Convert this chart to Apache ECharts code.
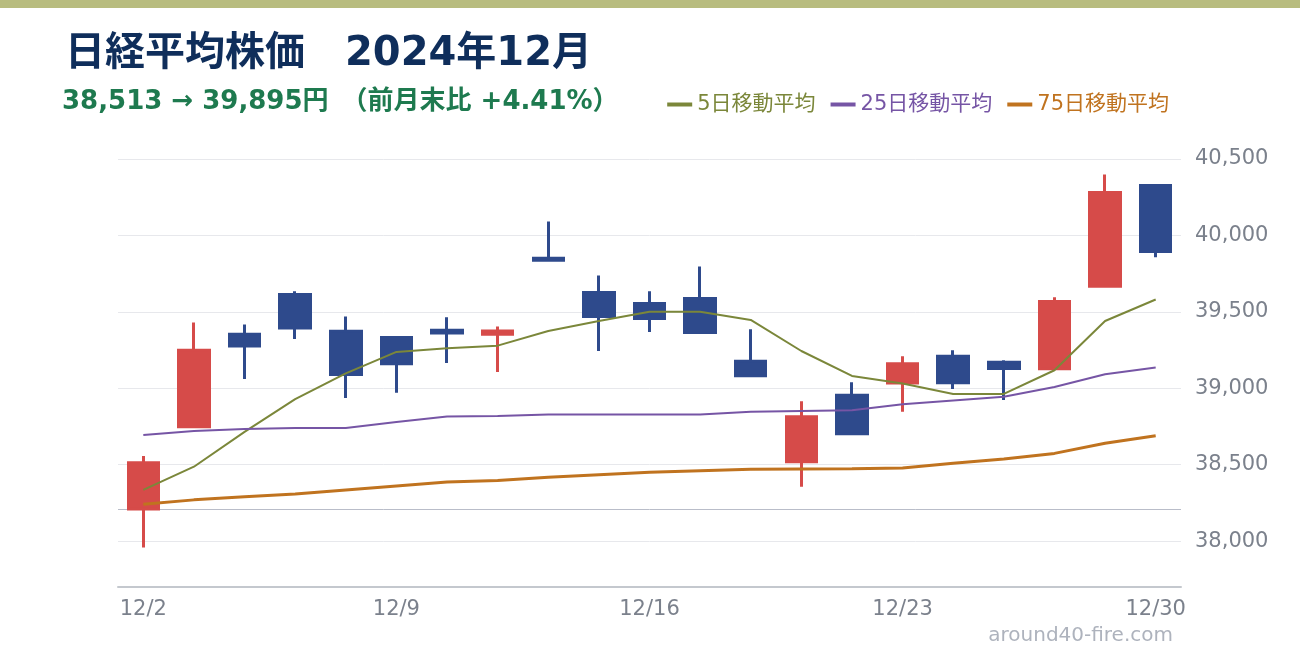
<!DOCTYPE html>
<html>
<head>
	<meta charset="utf-8">
	<script src="https://cdn.jsdelivr.net/npm/echarts@6/dist/echarts.min.js"></script>
	<style>
		html, body { margin:0; padding:0; background:#fff; }
		#chart { width:1300px; height:660px; }
	</style>
</head>
<body>
<div id="chart"></div>
<script>
	// 日付（営業日）
	var days = ['12/2','12/3','12/4','12/5','12/6','12/9','12/10','12/11','12/12','12/13',
		'12/16','12/17','12/18','12/19','12/20','12/23','12/24','12/25','12/26','12/27','12/30'];
	// 四本値
	var opens  = [38210, 38748, 39353, 39614, 39373, 39333, 39380, 39354, 39850, 39627,
		39555, 39588, 39177, 38520, 38955, 39035, 39209, 39170, 39127, 39668, 40326];
	var closes = [38513, 39249, 39276, 39395, 39091, 39160, 39362, 39374, 39838, 39470,
		39457, 39365, 39082, 38814, 38702, 39161, 39037, 39130, 39568, 40281, 39895];
	var lows   = [37958, 38741, 39061, 39322, 38937, 38970, 39166, 39107, 39832, 39244,
		39368, 39361, 39080, 38356, 38700, 38846, 38996, 38924, 39120, 39668, 39858];
	var highs  = [38557, 39431, 39418, 39634, 39470, 39333, 39464, 39405, 40091, 39738,
		39634, 39797, 39386, 38916, 39040, 39209, 39249, 39183, 39595, 40399, 40326];
	// 移動平均
	var ma5  = [38335, 38487, 38715, 38929, 39098, 39238, 39262, 39279, 39375, 39440,
		39501, 39501, 39447, 39244, 39081, 39031, 38963, 38963, 39118, 39440, 39581];
	var ma25 = [38694, 38720, 38733, 38740, 38740, 38779, 38816, 38818, 38829, 38829,
		38829, 38829, 38846, 38852, 38857, 38896, 38920, 38944, 39009, 39092, 39136];
	var ma75 = [38241, 38270, 38291, 38309, 38335, 38361, 38387, 38396, 38418, 38435,
		38450, 38461, 38470, 38472, 38474, 38478, 38509, 38537, 38574, 38640, 38689];
	// 目盛り
	var yTicks = [38000, 38500, 39000, 39500, 40000, 40500];
	var prevClose = 38208;  // 前月末終値

	var font = '"DejaVu Sans", "Noto Sans CJK JP", sans-serif';
	var tickColor = '#7b818c';

	var candles = [];
	for (var i = 0; i < days.length; i++) {
		candles.push([opens[i], closes[i], lows[i], highs[i]]);
	}

	var gridLines = yTicks.map(function (v) {
		return { yAxis: v, lineStyle: { color: '#e7e8ec', width: 1, type: 'solid' } };
	});
	gridLines.push({ yAxis: prevClose, lineStyle: { color: '#b9bdc9', width: 1, type: 'solid' } });

	var chart = echarts.init(document.getElementById('chart'));
	var option = {
		animation: false,
		backgroundColor: '#fff',
		textStyle: { fontFamily: font },
		title: [
			{
				text: '日経平均株価　2024年12月',
				left: 60, top: 30,
				textStyle: { color: '#0f2e5b', fontSize: 40, fontWeight: 'bold', fontFamily: font }
			},
			{
				text: '38,513 → 39,895円　（前月末比 +4.41%）',
				left: 57, top: 84,
				textStyle: { color: '#1e7a4f', fontSize: 26, fontWeight: 'bold', fontFamily: font }
			}
		],
		legend: {
			right: 126, top: 89,
			icon: 'rect',
			itemWidth: 25, itemHeight: 4,
			itemGap: 15,
			textStyle: { fontSize: 21, fontFamily: font },
			data: [
				{ name: '5日移動平均', textStyle: { color: '#7b873a' } },
				{ name: '25日移動平均', textStyle: { color: '#7655a5' } },
				{ name: '75日移動平均', textStyle: { color: '#c0731f' } }
			]
		},
		grid: { left: 118, right: 119, top: 159, bottom: 73 },
		xAxis: {
			type: 'category',
			data: days,
			boundaryGap: true,
			axisLine: { lineStyle: { color: '#c4c8ce', width: 2 } },
			axisTick: { show: false },
			axisLabel: { interval: 4, color: tickColor, fontSize: 21, margin: 12 },
			splitLine: { show: false }
		},
		yAxis: {
			type: 'value',
			position: 'right',
			min: 37700, max: 40500, interval: 100,
			axisLine: { show: false },
			axisTick: { show: false },
			splitLine: { show: false },
			axisLabel: {
				color: tickColor, fontSize: 21, margin: 14,
				formatter: function (v) {
					return yTicks.indexOf(v) >= 0 ? v.toLocaleString('en-US') : '';
				}
			}
		},
		graphic: [
			{ type: 'rect', left: 0, top: 0, shape: { width: 1300, height: 8 }, style: { fill: '#b8bc7f' } },
			{ type: 'text', right: 127, top: 626, style: { text: 'around40-fire.com', fill: '#aeb3bd', font: '20px ' + font } }
		],
		series: [
			{
				name: 'grid', type: 'line', data: [], z: 1, silent: true,
				markLine: { z: 1, symbol: 'none', silent: true, label: { show: false }, data: gridLines }
			},
			{
				name: '日経平均', type: 'candlestick', data: candles, z: 3,
				barWidth: 31,
				itemStyle: {
					color: '#d64b49', color0: '#2e4a8c',
					borderColor: '#d64b49', borderColor0: '#2e4a8c',
					borderWidth: 3
				}
			},
			{
				name: '5日移動平均', type: 'line', data: ma5, z: 4,
				symbol: 'none', lineStyle: { color: '#7b873a', width: 2 }, itemStyle: { color: '#7b873a' }
			},
			{
				name: '25日移動平均', type: 'line', data: ma25, z: 4,
				symbol: 'none', lineStyle: { color: '#7655a5', width: 2 }, itemStyle: { color: '#7655a5' }
			},
			{
				name: '75日移動平均', type: 'line', data: ma75, z: 4,
				symbol: 'none', lineStyle: { color: '#c0731f', width: 3 }, itemStyle: { color: '#c0731f' }
			}
		]
	};
	chart.setOption(option);
</script>
</body>
</html>
